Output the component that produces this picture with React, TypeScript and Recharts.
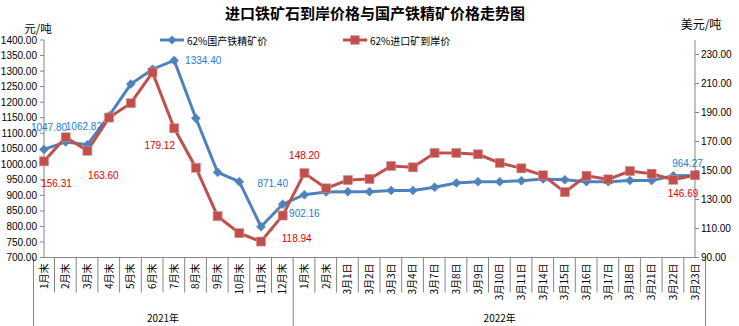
import React from 'react';
import { LineChart, Line, XAxis, YAxis, Legend } from 'recharts';

const title = '进口铁矿石到岸价格与国产铁精矿价格走势图';
const leftUnit = '元/吨';
const rightUnit = '美元/吨';
const seriesNames = ['62%国产铁精矿价', '62%进口矿到岸价'];
const yearLabels = ['2021年', '2022年'];

const categories2021 = ['1月末', '2月末', '3月末', '4月末', '5月末', '6月末', '7月末', '8月末', '9月末', '10月末', '11月末', '12月末'];
const categories2022 = ['1月末', '2月末', '3月1日', '3月2日', '3月3日', '3月4日', '3月7日', '3月8日', '3月9日', '3月10日', '3月11日', '3月14日', '3月15日', '3月16日', '3月17日', '3月18日', '3月21日', '3月22日', '3月23日'];

const domesticPrice = [1047.80, 1072, 1062.82, 1156, 1258, 1306, 1334.40, 1148, 974, 944, 799, 871.40,
  902.16, 911, 912, 912, 916, 916, 926, 940, 944, 944, 947, 953, 950, 944, 944, 948, 948, 963, 964.27];
const importPrice = [156.31, 172.9, 163.60, 186.5, 196.4, 217.6, 179.12, 151.9, 118.5, 106.8, 101, 118.94,
  148.20, 137.7, 143.4, 144.1, 153.1, 152.2, 162.1, 162.1, 161.2, 155.2, 151.5, 146.7, 135.1, 146.4, 143.9, 149.6, 147.8, 143.6, 146.69];

const leftTicks = [700, 750, 800, 850, 900, 950, 1000, 1050, 1100, 1150, 1200, 1250, 1300, 1350, 1400];
const rightTicks = [90, 110, 130, 150, 170, 190, 210, 230];

const labeledIdx = [0, 2, 6, 11, 12, 30];

// label placement offsets (style)
const blueOffsets: Record<number, [number, number]> = { 0: [5, -22], 2: [-3.5, -18], 6: [29, 0], 11: [-10, -21], 12: [0, 19], 30: [-7.5, -12] };
const redOffsets: Record<number, [number, number]> = { 0: [12.5, 22], 2: [16, 25], 6: [-14.5, 17], 11: [14, 23], 12: [0, -18], 30: [-12, 18] };

const categories = [...categories2021, ...categories2022];
const data = categories.map((c, i) => ({ cat: c, key: i, domestic: domesticPrice[i], imported: importPrice[i] }));

const W = 739;
const H = 326;
const PL = 44;
const PR = 695;
const BLUE = '#4F81BD';
const RED = '#C0504D';
const AXIS = '#868686';
const NUM_FONT = '"Liberation Sans", Arial, sans-serif';
const CJK_FONT = '"Noto Sans CJK SC", sans-serif';

const BW = (PR - PL) / categories.length;
const n2021 = categories2021.length;

function CatTick(props: any) {
  const { x, y, payload } = props;
  const i: number = props.index ?? payload.index;
  const label = payload.value;
  const yb = y;
  const rx = x + BW / 2;
  const isYearEnd = i === n2021 - 1 || i === categories.length - 1;
  return (
    <g>
      <text
        x={x}
        y={yb + 6}
        transform={`rotate(-90, ${x}, ${yb + 6})`}
        textAnchor="end"
        dy="0.36em"
        fontSize={10}
        fontFamily={CJK_FONT}
        fill="#000"
      >
        {label}
      </text>
      {i === 0 && <line x1={x - BW / 2} x2={x - BW / 2} y1={yb} y2={H} stroke={AXIS} strokeWidth={1} />}
      <line x1={rx} x2={rx} y1={yb} y2={isYearEnd ? H : yb + 35} stroke={AXIS} strokeWidth={1} />
      {i === 5 && (
        <text x={rx} y={yb + 64} textAnchor="middle" fontSize={10} fontFamily={CJK_FONT} fill="#000">{yearLabels[0]}</text>
      )}
      {i === 21 && (
        <text x={x} y={yb + 64} textAnchor="middle" fontSize={10} fontFamily={CJK_FONT} fill="#000">{yearLabels[1]}</text>
      )}
    </g>
  );
}

function Diamond(props: any) {
  const { cx, cy, index } = props;
  if (cx == null || cy == null) return <g key={index} />;
  const r = 4.5;
  return <path key={index} d={`M${cx},${cy - r}L${cx + r},${cy}L${cx},${cy + r}L${cx - r},${cy}Z`} fill={BLUE} stroke={BLUE} strokeWidth={0.5} />;
}

function Square(props: any) {
  const { cx, cy, index } = props;
  if (cx == null || cy == null) return <g key={index} />;
  const s = 4.5;
  return <rect key={index} x={cx - s} y={cy - s} width={2 * s} height={2 * s} fill={RED} stroke="#d98a88" strokeWidth={0.6} />;
}

function makeLabel(offsets: Record<number, [number, number]>, color: string) {
  return (props: any) => {
    const { x, y, value, index } = props;
    if (!labeledIdx.includes(index)) return <g key={index} />;
    const [dx, dy] = offsets[index] || [0, -12];
    return (
      <text key={index} x={x + dx} y={y + dy} textAnchor="middle" dominantBaseline="central" fontSize={10} fontFamily="Liberation Sans, Arial, sans-serif" fill={color}>
        {Number(value).toFixed(2)}
      </text>
    );
  };
}

function LegendContent() {
  const ly = 10;
  return (
    <svg width={W} height={20} style={{ display: 'block' }}>
      <line x1={160} x2={184} y1={ly} y2={ly} stroke={BLUE} strokeWidth={3} />
      <path d={`M172,${ly - 4.5}L176.5,${ly}L172,${ly + 4.5}L167.5,${ly}Z`} fill={BLUE} />
      <text x={187} y={ly} dominantBaseline="central" fontSize={10} fontFamily={CJK_FONT} fill="#000">{seriesNames[0]}</text>
      <line x1={343} x2={367} y1={ly} y2={ly} stroke={RED} strokeWidth={3} />
      <rect x={350.5} y={ly - 4.5} width={9} height={9} fill={RED} />
      <text x={370} y={ly} dominantBaseline="central" fontSize={10} fontFamily={CJK_FONT} fill="#000">{seriesNames[1]}</text>
    </svg>
  );
}

export default function App() {
  return (
    <div style={{ position: 'absolute', left: 0, top: 0, width: W, height: H, background: '#fff' }}>
      <LineChart width={W} height={H} data={data} margin={{ top: 40, right: 0, bottom: 0, left: 0 }}>
        <XAxis
          dataKey="cat"
          xAxisId={0}
          interval={0}
          height={68.5}
          tickLine={false}
          tickSize={0}
          tickMargin={0}
          axisLine={{ stroke: AXIS, strokeWidth: 1 }}
          tick={<CatTick />}
        />
        <YAxis
          yAxisId="left"
          orientation="left"
          width={44}
          domain={[700, 1400]}
          ticks={leftTicks}
          interval={0}
          allowDataOverflow
          tickSize={4}
          tickMargin={3}
          axisLine={{ stroke: AXIS, strokeWidth: 1 }}
          tickLine={{ stroke: AXIS }}
          tickFormatter={(v: number) => v.toFixed(2)}
          tick={{ fontSize: 10, fontFamily: NUM_FONT, fill: '#000' }}
        />
        <YAxis
          yAxisId="right"
          orientation="right"
          width={44}
          domain={[90, 240]}
          ticks={rightTicks}
          interval={0}
          allowDataOverflow
          tickSize={4}
          tickMargin={2}
          axisLine={{ stroke: AXIS, strokeWidth: 1 }}
          tickLine={{ stroke: AXIS }}
          tickFormatter={(v: number) => v.toFixed(2)}
          tick={{ fontSize: 10, fontFamily: NUM_FONT, fill: '#000' }}
        />
        <Legend
          layout="vertical"
          align="center"
          verticalAlign="middle"
          wrapperStyle={{ position: 'absolute', left: 0, top: 30, width: W, height: 20 }}
          content={() => <LegendContent />}
        />
        <Line
          yAxisId="left"
          type="linear"
          dataKey="domestic"
          name={seriesNames[0]}
          stroke={BLUE}
          strokeWidth={3}
          dot={Diamond}
          activeDot={false}
          label={makeLabel(blueOffsets, '#1C7DD6')}
          isAnimationActive={false}
        />
        <Line
          yAxisId="right"
          type="linear"
          dataKey="imported"
          name={seriesNames[1]}
          stroke={RED}
          strokeWidth={3}
          dot={Square}
          activeDot={false}
          label={makeLabel(redOffsets, '#E00000')}
          isAnimationActive={false}
        />
      </LineChart>
      <svg width={W} height={H} style={{ position: 'absolute', left: 0, top: 0, pointerEvents: 'none' }}>
        <text x={375} y={12} textAnchor="middle" dominantBaseline="central" fontSize={15} fontWeight="bold" fontFamily={CJK_FONT} fill="#000">{title}</text>
        <text x={38} y={28} textAnchor="middle" dominantBaseline="central" fontSize={11.5} fontFamily={CJK_FONT} fill="#000">{leftUnit}</text>
        <text x={701} y={23} textAnchor="middle" dominantBaseline="central" fontSize={12} fontFamily={CJK_FONT} fill="#000">{rightUnit}</text>
      </svg>
    </div>
  );
}
